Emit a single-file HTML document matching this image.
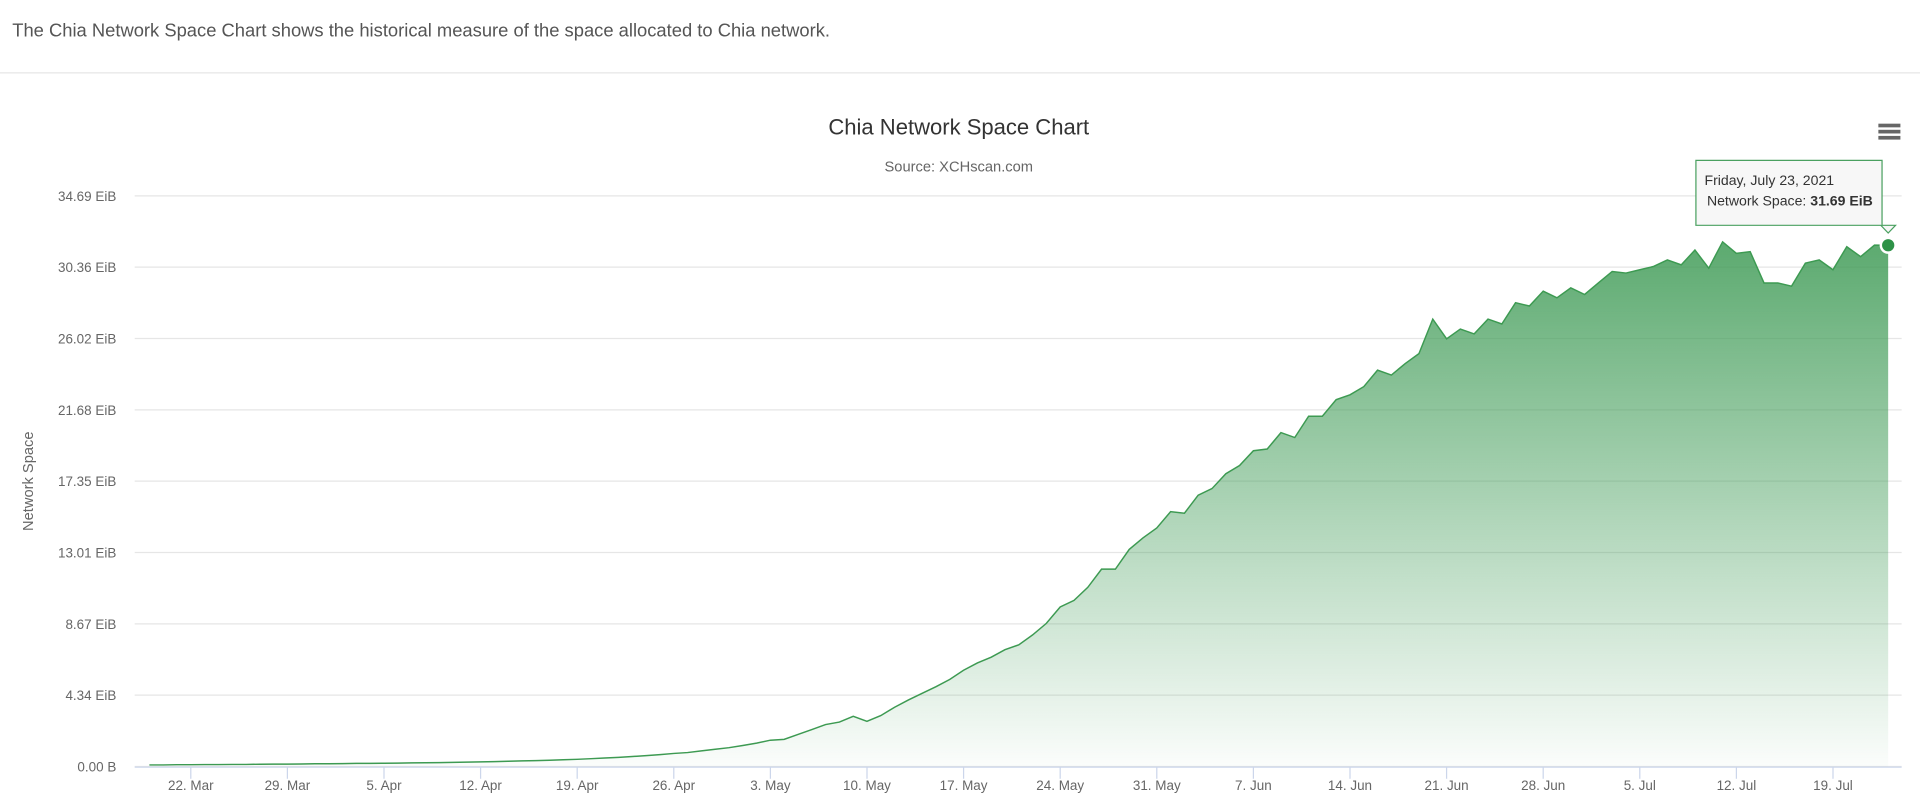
<!DOCTYPE html>
<html><head><meta charset="utf-8"><style>
body{margin:0;width:1920px;height:808px;background:#fff;font-family:"Liberation Sans",sans-serif;overflow:hidden}
#wrap{position:absolute;left:0;top:0;width:1568px;height:660px;transform:scale(1.22449);transform-origin:0 0}
#hdr{position:absolute;left:10px;top:17px;font-size:15px;color:#555}
#sep{position:absolute;left:0;top:59px;width:1568px;height:1px;background:#e6e6e6}
svg{position:absolute;left:0;top:0}
</style></head><body>
<div id="wrap">
<div id="hdr">The Chia Network Space Chart shows the historical measure of the space allocated to Chia network.</div>
<div id="sep"></div>
<svg id="chart" width="1568" height="660"></svg>
</div>
<script>
const startDate = [2021, 2, 19];
const values = [
0.10,0.10,0.11,0.11,0.12,0.12,0.13,0.13,0.14,0.15,0.15,0.16,0.17,
0.17,0.18,0.19,0.19,0.20,0.21,0.22,0.23,0.24,0.25,0.27,0.28,0.30,0.32,0.34,0.36,0.38,0.41,0.44,0.48,0.52,0.56,0.61,0.66,0.72,0.80,0.85,0.95,1.05,1.15,
1.28,1.42,1.60,1.65,1.95,2.25,2.55,2.70,3.05,2.75,3.10,3.60,4.05,4.45,4.85,5.30,5.85,6.30,6.65,7.10,7.40,8.00,8.70,9.70,10.10,10.90,12.00,12.00,13.20,13.90,14.50,
15.50,15.40,16.50,16.90,17.80,18.30,19.20,19.30,20.30,20.00,21.30,21.30,22.30,22.60,23.10,24.10,23.80,24.50,25.10,27.20,26.00,26.60,26.30,27.20,26.90,28.20,28.00,28.90,28.50,29.10,
28.70,29.40,30.10,30.00,30.20,30.40,30.80,30.50,31.40,30.30,31.90,31.20,31.30,29.40,29.40,29.20,30.60,30.80,30.20,31.60,31.00,31.70,31.69];
const yTicks = [0, 4.34, 8.67, 13.01, 17.35, 21.68, 26.02, 30.36, 34.69];
const yTickLabels = ["0.00 B","4.34 EiB","8.67 EiB","13.01 EiB","17.35 EiB","21.68 EiB","26.02 EiB","30.36 EiB","34.69 EiB"];
const xTickLabels = ["22. Mar","29. Mar","5. Apr","12. Apr","19. Apr","26. Apr","3. May","10. May","17. May","24. May","31. May","7. Jun","14. Jun","21. Jun","28. Jun","5. Jul","12. Jul","19. Jul"];
const xTickDays = [3,10,17,24,31,38,45,52,59,66,73,80,87,94,101,108,115,122];

const NS="http://www.w3.org/2000/svg";
const svg=document.getElementById('chart');
const X0=122, PX=11.27, Y0=626, Y1=160, YMAX=34.69;
const xs=d=>X0+d*PX;
const ys=v=>Y0-(v/YMAX)*(Y0-Y1);
function mk(t,a,p){const e=document.createElementNS(NS,t);for(const k in a)e.setAttribute(k,a[k]);(p||svg).appendChild(e);return e;}

const defs=mk('defs',{});
const g=mk('linearGradient',{id:'gr',x1:0,y1:0,x2:0,y2:1},defs);
mk('stop',{offset:'0','stop-color':'#3f9b56','stop-opacity':'0.85'},g);
mk('stop',{offset:'1','stop-color':'#3f9b56','stop-opacity':'0.02'},g);

let t=mk('text',{x:783,y:110,'text-anchor':'middle','font-size':18,fill:'#333'});
t.textContent='Chia Network Space Chart';
t=mk('text',{x:783,y:140,'text-anchor':'middle','font-size':12,fill:'#666'});
t.textContent='Source: XCHscan.com';

const menu=mk('g',{});

for(let i=0;i<3;i++)mk('rect',{x:1534,y:101+i*5,width:18,height:3,fill:'#666'},menu);

yTicks.forEach((v,i)=>{
  const gl=mk('line',{x1:110,x2:1553,y1:ys(v),y2:ys(v),stroke:'#e6e6e6','stroke-width':1});
  
  const l=mk('text',{x:95,y:ys(v)+4,'text-anchor':'end','font-size':11,fill:'#666'});
  
  l.textContent=yTickLabels[i];
});
t=mk('text',{x:0,y:0,'text-anchor':'middle','font-size':12,fill:'#666',transform:'translate(27,393) rotate(-90)'});
t.textContent='Network Space';

const ax=mk('line',{x1:110,x2:1553,y1:Y0+0.5,y2:Y0+0.5,stroke:'#ccd6eb'});

xTickDays.forEach((d,i)=>{
  mk('line',{x1:xs(d),x2:xs(d),y1:Y0,y2:Y0+10,stroke:'#ccd6eb'});
  const l=mk('text',{x:xs(d),y:Y0+19,'text-anchor':'middle','font-size':11,fill:'#666'});
  
  l.textContent=xTickLabels[i];
});

let pts=values.map((v,i)=>xs(i).toFixed(1)+','+ys(v).toFixed(1));
const area=mk('path',{d:'M'+xs(0)+','+Y0+' L'+pts.join(' L')+' L'+xs(values.length-1)+','+Y0+'Z',fill:'url(#gr)'});

const line=mk('path',{d:'M'+pts.join(' L'),fill:'none',stroke:'#3d9a52','stroke-width':1.2});

const li=values.length-1;
const mark=mk('circle',{cx:xs(li),cy:ys(values[li]),r:6,fill:'#2e9247',stroke:'#fff','stroke-width':2});


const tip=mk('g',{});

const tx=xs(li), ty=ys(values[li]);
mk('path',{d:`M1385,131 H1537 V184 H${tx+6} L${tx},${ty-10} L${tx-6},184 H1385 Z`,fill:'#f7f7f7',stroke:'#4aa060','stroke-width':1},tip);
t=mk('text',{x:1392,y:151,'font-size':11.5,fill:'#333'},tip);t.textContent='Friday, July 23, 2021';
t=mk('text',{x:1394,y:168,'font-size':11.5,fill:'#333'},tip);
t.innerHTML='Network Space: <tspan font-weight="bold">'+values[li].toFixed(2)+' EiB</tspan>';
</script>
</body></html>
